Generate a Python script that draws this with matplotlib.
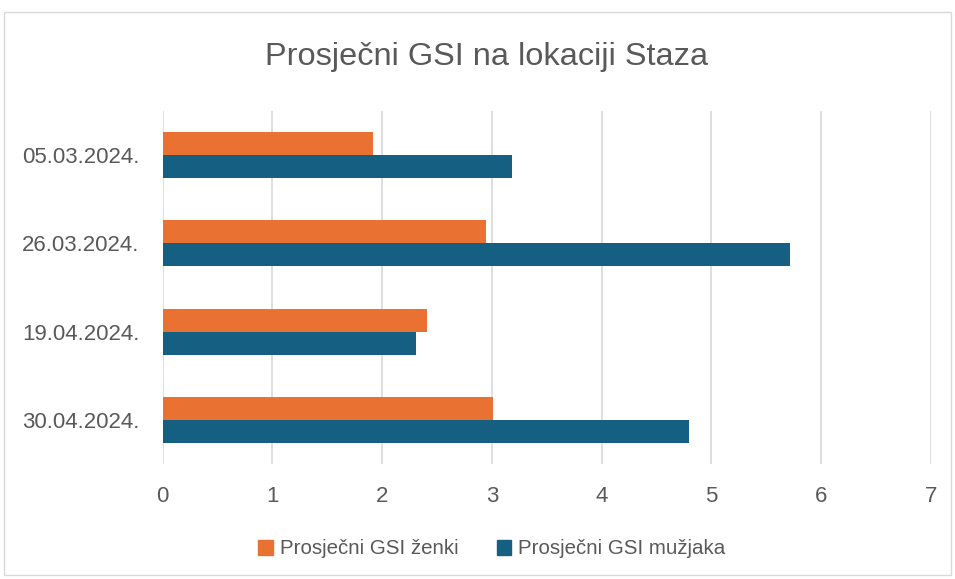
import numpy as np
import matplotlib.pyplot as plt
from matplotlib.patches import Rectangle, Patch

# data
dates = ['05.03.2024.', '26.03.2024.', '19.04.2024.', '30.04.2024.']
gsi_zenke = [1.92, 2.95, 2.41, 3.01]
gsi_muzjaci = [3.18, 5.72, 2.31, 4.80]
x_ticks = [0, 1, 2, 3, 4, 5, 6, 7]

ORANGE = '#E97132'
BLUE = '#156082'
TEXT = '#595959'
GRID = '#D9D9D9'

plt.rcParams['font.family'] = ['Liberation Sans', 'DejaVu Sans']

fig = plt.figure(figsize=(9.55, 5.79), dpi=100)
fig.patch.set_facecolor('white')

# outer chart border
fig.patches.append(Rectangle((4 / 955, 4 / 579), 947 / 955, 563 / 579,
                             transform=fig.transFigure, fill=False,
                             edgecolor=GRID, linewidth=1))

ax = fig.add_axes([162.5 / 955, 1 - 464 / 579, 768.5 / 955, 353 / 579])

y = np.arange(len(dates))
h = 0.26
ax.barh(y - h / 2, gsi_zenke, height=h, color=ORANGE, label='Prosječni GSI ženki', zorder=3)
ax.barh(y + h / 2, gsi_muzjaci, height=h, color=BLUE, label='Prosječni GSI mužjaka', zorder=3)

ax.set_xlim(0, 7)
ax.set_ylim(len(dates) - 0.5, -0.5)
ax.set_xticks(x_ticks)
ax.set_yticks(y)
ax.set_yticklabels(dates)
ax.xaxis.grid(True, color=GRID, linewidth=1.2, zorder=0)
ax.tick_params(axis='both', length=0, labelsize=16, colors=TEXT)
ax.tick_params(axis='x', pad=16)
ax.tick_params(axis='y', pad=16.5)
for s in ax.spines.values():
    s.set_visible(False)

fig.text(486.5 / 955, 1 - 57 / 579, 'Prosječni GSI na lokaciji Staza', ha='center', va='center',
         fontsize=23.4, color=TEXT)

handles = [Patch(color=ORANGE, label='Prosječni GSI ženki'),
           Patch(color=BLUE, label='Prosječni GSI mužjaka')]
fig.legend(handles=handles, loc='center', bbox_to_anchor=(492 / 955, 1 - 549 / 579), ncol=2,
           frameon=False, fontsize=14.8, labelcolor=TEXT, handlelength=0.7, handleheight=0.7,
           handletextpad=0.35, columnspacing=1.85)

plt.savefig('out.png', dpi=100, facecolor='white')
